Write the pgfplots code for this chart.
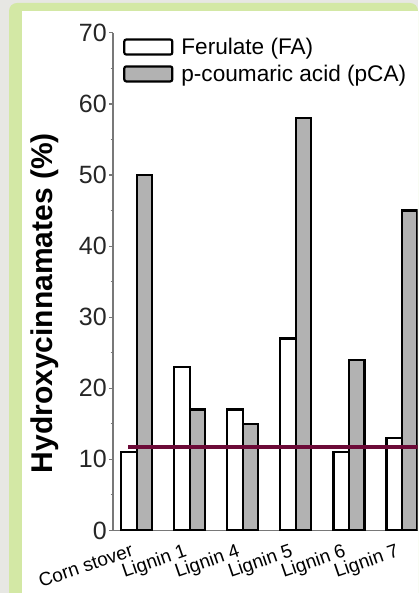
\documentclass[border=0pt]{standalone}
\usepackage{fontspec}
\setmainfont{Liberation Sans}
\usepackage{pgfplots}
\pgfplotsset{compat=1.18}
\definecolor{bggray}{RGB}{231,231,227}
\definecolor{bggreen}{RGB}{211,232,165}
\definecolor{maroon}{RGB}{108,10,55}
\definecolor{bargray}{RGB}{178,178,178}
\definecolor{axgray}{RGB}{120,120,120}
\pgfplotsset{mylegend/.style={legend image code/.code={\draw[##1, line width=2.2pt, rounded corners=2pt] (0pt,-7.5pt) rectangle (48pt,7.5pt);}}}
\begin{document}
\begin{tikzpicture}
\fill[bggray] (0pt,0pt) rectangle (418pt,593pt);
\fill[bggreen, rounded corners=8pt] (9pt,0pt) -- (9pt,590pt) -- (418pt,590pt) [sharp corners] -- (418pt,0pt) -- cycle;
\fill[white] (22pt,0pt) rectangle (418pt,582pt);
\begin{axis}[
  at={(113pt,62.6pt)}, anchor=south west,
  scale only axis, width=304.5pt, height=497.5pt,
  xmin=-0.4467, xmax=5.2921, ymin=0, ymax=70,
  axis x line*=bottom, axis y line*=left,
  axis line style={axgray, line width=1.5pt},
  ytick={0,10,...,70}, minor ytick={5,15,...,65},
  tick align=outside,
  major tick length=4pt, minor tick length=2.5pt,
  every tick/.style={axgray, line width=1.2pt},
  xtick={0,...,5},
  xticklabels={Corn stover,Lignin 1,Lignin 4,Lignin 5,Lignin 6,Lignin 7},
  xtick style={draw=none},
  /pgf/number format/assume math mode=true,
  yticklabel style={font=\fontsize{25}{25}\selectfont, inner sep=0pt, xshift=-2pt, text=black!85},
  xticklabel style={font=\fontsize{19}{19}\selectfont, rotate=19, anchor=north east, inner sep=0pt, yshift=-6pt, xshift=-9pt},
  ylabel={Hydroxycinnamates (\%)},
  ylabel style={font=\bfseries\fontsize{30}{30}\selectfont, at={(axis description cs:-0.225,0.457)}, anchor=center, inner sep=0pt},
  legend style={at={(axis description cs:0,1)}, anchor=north west, xshift=10pt, yshift=-3pt,
    draw=none, fill=none, inner sep=0pt, font=\fontsize{22.6}{24}\selectfont, row sep=5pt,
    /tikz/column sep=6pt},
  legend cell align=left,
]
\addplot[ybar, bar width=15.5pt, bar shift=-7.75pt, draw=black, fill=white, line width=2.2pt, mylegend]
  coordinates {(0,11) (1,23) (2,17) (3,27) (4,11) (5,13)};
\addplot[ybar, bar width=15.5pt, bar shift=7.75pt, draw=black, fill=bargray, line width=2.2pt, mylegend]
  coordinates {(0,50) (1,17) (2,15) (3,58) (4,24) (5,45)};
\addplot[maroon, line width=4.5pt, forget plot] coordinates {(-0.164,11.7) (5.2921,11.7)};
\legend{Ferulate (FA), p-coumaric acid (pCA)}
\end{axis}
\end{tikzpicture}
\end{document}
